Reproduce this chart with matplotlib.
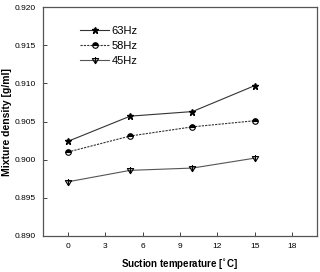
import matplotlib
matplotlib.use('Agg')
from matplotlib import pyplot as plt
from matplotlib.path import Path
import numpy as np

plt.rcParams['font.family'] = ['Liberation Sans', 'DejaVu Sans']

temps = [0, 5, 10, 15]
dens_63 = [0.9024, 0.9057, 0.9063, 0.9097]
dens_58 = [0.9010, 0.9031, 0.9043, 0.9051]
dens_45 = [0.8971, 0.8986, 0.8989, 0.9002]
labels = ['63Hz', '58Hz', '45Hz']

# triangle-down with a vertical bar through it
tri = Path([(-1, 0.6), (1, 0.6), (0, -1), (-1, 0.6), (0, 1.1), (0, -1.1)],
           [Path.MOVETO, Path.LINETO, Path.LINETO, Path.CLOSEPOLY, Path.MOVETO, Path.LINETO])

fig = plt.figure(figsize=(3.2, 2.72), dpi=100)
ax = fig.add_axes([43/320, 1 - 236/272, 274/320, 229/272])

ax.plot(temps, dens_63, '-', color='#333333', lw=0.8, marker='*', ms=5,
        mfc='k', mec='k', label=labels[0])
ax.plot(temps, dens_58, '--', color='#333333', lw=0.8, dashes=(2, 1), marker='o', ms=4,
        fillstyle='top', mfc='k', mfcalt='white', mec='k', mew=0.8, label=labels[1])
ax.plot(temps, dens_45, '-', color='#555555', lw=0.8, marker=tri, ms=5,
        mfc='none', mec='k', mew=0.8, label=labels[2])

ax.set_xlim(-2, 20)
ax.set_ylim(0.890, 0.920)
ax.set_xticks([0, 3, 6, 9, 12, 15, 18])
ax.set_yticks(np.arange(0.890, 0.9201, 0.005))
ax.yaxis.set_major_formatter(matplotlib.ticker.FormatStrFormatter('%.3f'))
ax.tick_params(direction='in', labelsize=6, length=3, width=0.7, color='#444444', pad=5)
for s in ax.spines.values():
    s.set_color('#555555')
    s.set_linewidth(0.9)

ax.set_xlabel('Suction temperature [$^{\\circ}$C]', fontsize=7, fontweight='bold')
ax.set_ylabel('Mixture density [g/ml]', fontsize=7.5, fontweight='bold')
ax.xaxis.set_label_coords(0.5, -0.09)
ax.yaxis.set_label_coords(-0.113, 0.5)

ax.legend(loc='upper left', bbox_to_anchor=(0.12, 0.935), frameon=False, fontsize=8,
          handlelength=2.6, labelspacing=0.45, handletextpad=0.2, borderaxespad=0)

fig.savefig('out.png', dpi=100)
